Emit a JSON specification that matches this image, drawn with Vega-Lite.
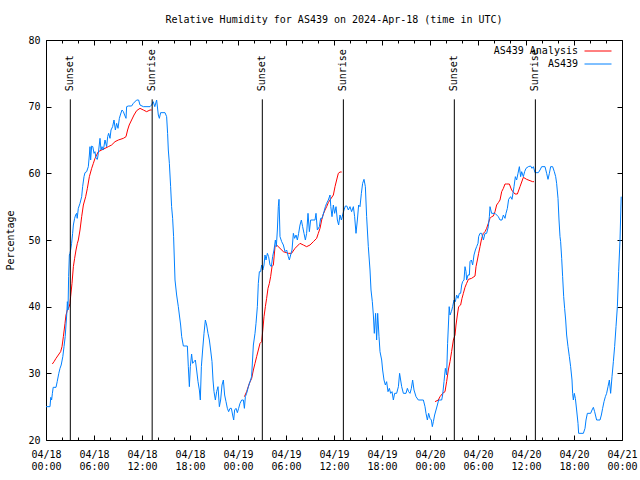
{
  "$schema": "https://vega.github.io/schema/vega-lite/v6.json",
  "width": 576,
  "height": 400,
  "autosize": {"type": "none"},
  "padding": {"left": 46, "top": 40, "right": 18, "bottom": 40},
  "background": "white",
  "title": {"text": "Relative Humidity for AS439 on 2024-Apr-18 (time in UTC)", "font": "DejaVu Sans Mono", "fontSize": 10, "fontWeight": "normal", "color": "black", "anchor": "middle", "offset": 10},
  "config": {
    "view": {"stroke": "black", "strokeWidth": 1},
    "font": "DejaVu Sans Mono",
    "axis": {"domain": false, "grid": false, "labelFont": "DejaVu Sans Mono", "labelFontSize": 10, "labelColor": "black", "tickColor": "black", "tickWidth": 1, "titleFont": "DejaVu Sans Mono", "titleFontSize": 10, "titleFontWeight": "normal", "titleColor": "black"}
  },
  "datasets": {
    "analysis": [
      {"seg":1,"hour":0.79,"rh":31.4},{"seg":1,"hour":1.0,"rh":31.75},{"seg":1,"hour":1.25,"rh":32.25},{"seg":1,"hour":1.54,"rh":32.75},{"seg":1,"hour":1.83,"rh":33.25},{"seg":1,"hour":2.0,"rh":34},{"seg":1,"hour":2.17,"rh":35.5},{"seg":1,"hour":2.375,"rh":37.5},{"seg":1,"hour":2.5,"rh":38.75},{"seg":1,"hour":2.67,"rh":39.5},{"seg":1,"hour":2.9,"rh":40},{"seg":1,"hour":3.0,"rh":40.5},{"seg":1,"hour":3.08,"rh":41.5},{"seg":1,"hour":3.25,"rh":43.5},{"seg":1,"hour":3.42,"rh":46},{"seg":1,"hour":3.58,"rh":47.25},{"seg":1,"hour":3.75,"rh":48.5},{"seg":1,"hour":3.92,"rh":49.5},{"seg":1,"hour":4.04,"rh":50},{"seg":1,"hour":4.25,"rh":51.5},{"seg":1,"hour":4.46,"rh":53.5},{"seg":1,"hour":4.67,"rh":55.25},{"seg":1,"hour":4.96,"rh":56.5},{"seg":1,"hour":5.17,"rh":57.75},{"seg":1,"hour":5.42,"rh":59.5},{"seg":1,"hour":5.71,"rh":60.75},{"seg":1,"hour":5.92,"rh":61.5},{"seg":1,"hour":6.125,"rh":62.25},{"seg":1,"hour":6.33,"rh":62.75},{"seg":1,"hour":6.54,"rh":63.25},{"seg":1,"hour":6.96,"rh":63.5},{"seg":1,"hour":7.375,"rh":63.75},{"seg":1,"hour":7.79,"rh":64},{"seg":1,"hour":8.2,"rh":64.25},{"seg":1,"hour":8.625,"rh":64.75},{"seg":1,"hour":9.04,"rh":65},{"seg":1,"hour":9.67,"rh":65.25},{"seg":1,"hour":10.0,"rh":65.5},{"seg":1,"hour":10.2,"rh":66.5},{"seg":1,"hour":10.4,"rh":67.25},{"seg":1,"hour":10.7,"rh":68},{"seg":1,"hour":11.0,"rh":68.75},{"seg":1,"hour":11.33,"rh":69.4},{"seg":1,"hour":11.75,"rh":69.75},{"seg":1,"hour":12.17,"rh":69.5},{"seg":1,"hour":12.58,"rh":69.25},{"seg":1,"hour":13.0,"rh":69.5},{"seg":1,"hour":13.2,"rh":69.5},
      {"seg":2,"hour":24.8,"rh":26.5},{"seg":2,"hour":25.08,"rh":27.25},{"seg":2,"hour":25.42,"rh":28.5},{"seg":2,"hour":25.71,"rh":29.25},{"seg":2,"hour":25.92,"rh":30.5},{"seg":2,"hour":26.125,"rh":31.5},{"seg":2,"hour":26.33,"rh":32.5},{"seg":2,"hour":26.54,"rh":33.5},{"seg":2,"hour":26.75,"rh":34.5},{"seg":2,"hour":26.96,"rh":34.75},{"seg":2,"hour":27.1,"rh":36.5},{"seg":2,"hour":27.25,"rh":38.5},{"seg":2,"hour":27.42,"rh":40},{"seg":2,"hour":27.58,"rh":41.25},{"seg":2,"hour":27.75,"rh":42.75},{"seg":2,"hour":27.92,"rh":43.5},{"seg":2,"hour":28.08,"rh":44.5},{"seg":2,"hour":28.25,"rh":46},{"seg":2,"hour":28.42,"rh":46.25},{"seg":2,"hour":28.625,"rh":49},{"seg":2,"hour":28.83,"rh":49.25},{"seg":2,"hour":29.25,"rh":48.75},{"seg":2,"hour":29.67,"rh":48.25},{"seg":2,"hour":30.29,"rh":48},{"seg":2,"hour":30.7,"rh":48},{"seg":2,"hour":31.125,"rh":48.75},{"seg":2,"hour":31.75,"rh":49.5},{"seg":2,"hour":32.17,"rh":49.25},{"seg":2,"hour":32.58,"rh":49},{"seg":2,"hour":33.0,"rh":49.25},{"seg":2,"hour":33.42,"rh":49.75},{"seg":2,"hour":33.83,"rh":50.25},{"seg":2,"hour":34.04,"rh":51},{"seg":2,"hour":34.25,"rh":51.75},{"seg":2,"hour":34.46,"rh":53},{"seg":2,"hour":34.67,"rh":53.9},{"seg":2,"hour":34.875,"rh":54.5},{"seg":2,"hour":35.08,"rh":55},{"seg":2,"hour":35.29,"rh":55.6},{"seg":2,"hour":35.5,"rh":56},{"seg":2,"hour":35.92,"rh":56.75},{"seg":2,"hour":36.125,"rh":58},{"seg":2,"hour":36.33,"rh":59},{"seg":2,"hour":36.54,"rh":60},{"seg":2,"hour":36.75,"rh":60.2},{"seg":2,"hour":36.96,"rh":60.2},
      {"seg":3,"hour":48.625,"rh":25.75},{"seg":3,"hour":49.04,"rh":26},{"seg":3,"hour":49.25,"rh":26.5},{"seg":3,"hour":49.58,"rh":27},{"seg":3,"hour":49.875,"rh":27.25},{"seg":3,"hour":50.08,"rh":28.75},{"seg":3,"hour":50.29,"rh":30.5},{"seg":3,"hour":50.5,"rh":31.75},{"seg":3,"hour":50.7,"rh":33.25},{"seg":3,"hour":50.92,"rh":35},{"seg":3,"hour":51.125,"rh":35.75},{"seg":3,"hour":51.25,"rh":37.25},{"seg":3,"hour":51.42,"rh":38.75},{"seg":3,"hour":51.58,"rh":40},{"seg":3,"hour":51.83,"rh":40.25},{"seg":3,"hour":52.0,"rh":41.25},{"seg":3,"hour":52.17,"rh":42},{"seg":3,"hour":52.375,"rh":42.9},{"seg":3,"hour":52.58,"rh":43.5},{"seg":3,"hour":52.8,"rh":44.1},{"seg":3,"hour":53.2,"rh":44.25},{"seg":3,"hour":53.625,"rh":44.6},{"seg":3,"hour":53.75,"rh":46},{"seg":3,"hour":53.92,"rh":47},{"seg":3,"hour":54.08,"rh":48},{"seg":3,"hour":54.25,"rh":49},{"seg":3,"hour":54.46,"rh":50.25},{"seg":3,"hour":54.67,"rh":51},{"seg":3,"hour":54.875,"rh":51.25},{"seg":3,"hour":55.08,"rh":51.75},{"seg":3,"hour":55.29,"rh":52.5},{"seg":3,"hour":55.5,"rh":53.25},{"seg":3,"hour":55.7,"rh":53.5},{"seg":3,"hour":55.92,"rh":53.6},{"seg":3,"hour":56.125,"rh":54.25},{"seg":3,"hour":56.33,"rh":55.25},{"seg":3,"hour":56.54,"rh":55.6},{"seg":3,"hour":56.75,"rh":56},{"seg":3,"hour":56.96,"rh":57.25},{"seg":3,"hour":57.17,"rh":57.75},{"seg":3,"hour":57.375,"rh":58.4},{"seg":3,"hour":57.58,"rh":58.4},{"seg":3,"hour":57.92,"rh":58.4},{"seg":3,"hour":58.2,"rh":57.5},{"seg":3,"hour":58.625,"rh":56.9},{"seg":3,"hour":58.92,"rh":56.9},{"seg":3,"hour":59.25,"rh":58},{"seg":3,"hour":59.67,"rh":59.4},{"seg":3,"hour":60.08,"rh":59.1},{"seg":3,"hour":60.5,"rh":58.9},{"seg":3,"hour":60.83,"rh":58.75},{"seg":3,"hour":61.0,"rh":58.75}
    ],
    "obs": [
      {"hour":0.0,"rh":25},{"hour":0.5,"rh":25},{"hour":0.6,"rh":26.4},{"hour":0.7,"rh":26},{"hour":0.8,"rh":27},{"hour":0.9,"rh":27.9},{"hour":1.25,"rh":27.9},{"hour":1.4,"rh":28.75},{"hour":1.6,"rh":30},{"hour":1.75,"rh":30.75},{"hour":1.9,"rh":31.25},{"hour":2.1,"rh":32.5},{"hour":2.25,"rh":34},{"hour":2.4,"rh":35.5},{"hour":2.6,"rh":39},{"hour":2.67,"rh":40.75},{"hour":2.75,"rh":39.5},{"hour":2.83,"rh":44.5},{"hour":2.92,"rh":47.75},{"hour":3.0,"rh":48},{"hour":3.08,"rh":48.5},{"hour":3.2,"rh":49.5},{"hour":3.33,"rh":51},{"hour":3.42,"rh":52.25},{"hour":3.58,"rh":53.25},{"hour":3.7,"rh":53.75},{"hour":3.83,"rh":54},{"hour":3.9,"rh":53.25},{"hour":4.04,"rh":54.75},{"hour":4.25,"rh":55.5},{"hour":4.46,"rh":56.5},{"hour":4.58,"rh":58},{"hour":4.75,"rh":59.5},{"hour":4.875,"rh":60.1},{"hour":5.08,"rh":60.25},{"hour":5.29,"rh":61},{"hour":5.42,"rh":62.75},{"hour":5.5,"rh":64},{"hour":5.58,"rh":62},{"hour":5.71,"rh":64.1},{"hour":5.85,"rh":64},{"hour":6.0,"rh":63},{"hour":6.12,"rh":63.25},{"hour":6.25,"rh":62.25},{"hour":6.42,"rh":62.1},{"hour":6.54,"rh":63},{"hour":6.75,"rh":65.25},{"hour":6.875,"rh":63.5},{"hour":7.0,"rh":64},{"hour":7.17,"rh":63.5},{"hour":7.375,"rh":65},{"hour":7.58,"rh":64},{"hour":7.71,"rh":65.5},{"hour":7.83,"rh":66},{"hour":8.0,"rh":65.25},{"hour":8.125,"rh":66.5},{"hour":8.33,"rh":67},{"hour":8.5,"rh":68},{"hour":8.67,"rh":66.5},{"hour":8.83,"rh":67.5},{"hour":9.0,"rh":66.75},{"hour":9.17,"rh":68.25},{"hour":9.33,"rh":68.9},{"hour":9.5,"rh":69.5},{"hour":9.67,"rh":69.25},{"hour":9.83,"rh":68.75},{"hour":10.0,"rh":68.25},{"hour":10.08,"rh":70},{"hour":10.29,"rh":70.1},{"hour":10.7,"rh":70.1},{"hour":10.92,"rh":70.5},{"hour":11.33,"rh":71},{"hour":11.58,"rh":71},{"hour":11.75,"rh":70.25},{"hour":12.17,"rh":70},{"hour":13.0,"rh":70},{"hour":13.2,"rh":70.25},{"hour":13.4,"rh":70.75},{"hour":13.6,"rh":70},{"hour":13.83,"rh":71},{"hour":14.04,"rh":68.75},{"hour":14.17,"rh":68.25},{"hour":14.33,"rh":69.1},{"hour":14.875,"rh":69.1},{"hour":15.08,"rh":68.5},{"hour":15.2,"rh":66},{"hour":15.29,"rh":63.5},{"hour":15.42,"rh":61.5},{"hour":15.58,"rh":58},{"hour":15.7,"rh":55},{"hour":15.83,"rh":53.25},{"hour":15.95,"rh":50.5},{"hour":16.125,"rh":44},{"hour":16.33,"rh":41.75},{"hour":16.54,"rh":40},{"hour":16.67,"rh":38.75},{"hour":16.83,"rh":37.25},{"hour":16.96,"rh":35.5},{"hour":17.17,"rh":34.1},{"hour":17.67,"rh":34.1},{"hour":17.79,"rh":31},{"hour":17.92,"rh":28},{"hour":18.04,"rh":31},{"hour":18.2,"rh":32.9},{"hour":18.33,"rh":31.5},{"hour":18.5,"rh":31.75},{"hour":18.67,"rh":32},{"hour":18.83,"rh":30.5},{"hour":19.0,"rh":28.75},{"hour":19.17,"rh":27.5},{"hour":19.29,"rh":26},{"hour":19.42,"rh":31},{"hour":19.58,"rh":33.5},{"hour":19.75,"rh":36},{"hour":19.92,"rh":38},{"hour":20.08,"rh":37.25},{"hour":20.25,"rh":36},{"hour":20.42,"rh":35},{"hour":20.58,"rh":33.5},{"hour":20.75,"rh":31.75},{"hour":20.875,"rh":29},{"hour":21.0,"rh":27.25},{"hour":21.17,"rh":26},{"hour":21.33,"rh":27.25},{"hour":21.5,"rh":28},{"hour":21.67,"rh":25},{"hour":21.83,"rh":26},{"hour":22.0,"rh":28.25},{"hour":22.17,"rh":29},{"hour":22.33,"rh":26.75},{"hour":22.5,"rh":25.75},{"hour":22.67,"rh":24.75},{"hour":22.83,"rh":24.25},{"hour":23.0,"rh":24.75},{"hour":23.17,"rh":24.75},{"hour":23.33,"rh":23.75},{"hour":23.46,"rh":23},{"hour":23.58,"rh":24.5},{"hour":23.75,"rh":24.75},{"hour":23.92,"rh":24.1},{"hour":24.08,"rh":24.75},{"hour":24.25,"rh":25.5},{"hour":24.46,"rh":26},{"hour":24.67,"rh":26},{"hour":24.8,"rh":24.75},{"hour":24.92,"rh":26.5},{"hour":25.08,"rh":27},{"hour":25.3,"rh":28},{"hour":25.5,"rh":28.75},{"hour":25.7,"rh":29.5},{"hour":25.92,"rh":34.25},{"hour":26.125,"rh":36},{"hour":26.25,"rh":37.5},{"hour":26.42,"rh":40},{"hour":26.54,"rh":43.5},{"hour":26.67,"rh":45.25},{"hour":26.83,"rh":45.25},{"hour":26.96,"rh":46.25},{"hour":27.1,"rh":45.5},{"hour":27.25,"rh":46.25},{"hour":27.375,"rh":47.75},{"hour":27.5,"rh":47},{"hour":27.67,"rh":48},{"hour":27.83,"rh":47.5},{"hour":28.0,"rh":46.25},{"hour":28.17,"rh":46},{"hour":28.33,"rh":47.5},{"hour":28.5,"rh":48.5},{"hour":28.67,"rh":50},{"hour":28.79,"rh":49},{"hour":28.92,"rh":51.5},{"hour":29.04,"rh":55},{"hour":29.125,"rh":56.1},{"hour":29.25,"rh":50.5},{"hour":29.46,"rh":49.75},{"hour":29.67,"rh":49.25},{"hour":29.875,"rh":48.25},{"hour":30.08,"rh":48.5},{"hour":30.29,"rh":47.5},{"hour":30.42,"rh":47},{"hour":30.58,"rh":47.75},{"hour":30.75,"rh":48.5},{"hour":30.92,"rh":51},{"hour":31.08,"rh":50.25},{"hour":31.25,"rh":50.75},{"hour":31.42,"rh":50},{"hour":31.58,"rh":51},{"hour":31.75,"rh":52.25},{"hour":31.92,"rh":53},{"hour":32.08,"rh":52},{"hour":32.25,"rh":51},{"hour":32.42,"rh":50},{"hour":32.58,"rh":51},{"hour":32.75,"rh":54},{"hour":32.92,"rh":51.25},{"hour":33.08,"rh":53},{"hour":33.625,"rh":53},{"hour":33.75,"rh":54},{"hour":33.92,"rh":51.5},{"hour":34.17,"rh":52},{"hour":34.33,"rh":53.25},{"hour":34.5,"rh":53.25},{"hour":34.75,"rh":54.25},{"hour":34.92,"rh":55},{"hour":35.08,"rh":55.5},{"hour":35.29,"rh":56},{"hour":35.5,"rh":56.75},{"hour":35.6,"rh":55},{"hour":35.75,"rh":53.5},{"hour":35.92,"rh":55.25},{"hour":36.08,"rh":54},{"hour":36.25,"rh":55},{"hour":36.42,"rh":53},{"hour":36.58,"rh":52.25},{"hour":36.75,"rh":53.75},{"hour":36.92,"rh":53},{"hour":37.08,"rh":53.75},{"hour":37.25,"rh":54.5},{"hour":37.42,"rh":55.1},{"hour":37.6,"rh":55.1},{"hour":37.79,"rh":54.5},{"hour":38.0,"rh":55},{"hour":38.2,"rh":54.25},{"hour":38.42,"rh":55},{"hour":38.58,"rh":53.5},{"hour":38.75,"rh":51},{"hour":38.92,"rh":53},{"hour":39.08,"rh":55.25},{"hour":39.25,"rh":55},{"hour":39.42,"rh":57},{"hour":39.58,"rh":58.5},{"hour":39.75,"rh":59.1},{"hour":39.92,"rh":58},{"hour":40.08,"rh":53.5},{"hour":40.29,"rh":49},{"hour":40.5,"rh":45.5},{"hour":40.625,"rh":42.5},{"hour":40.79,"rh":40.75},{"hour":40.92,"rh":38.75},{"hour":41.04,"rh":36},{"hour":41.2,"rh":39},{"hour":41.33,"rh":35},{"hour":41.46,"rh":39},{"hour":41.625,"rh":35.5},{"hour":41.75,"rh":33.25},{"hour":41.96,"rh":32},{"hour":42.08,"rh":30.5},{"hour":42.25,"rh":29},{"hour":42.42,"rh":28.25},{"hour":42.58,"rh":28.75},{"hour":42.75,"rh":27.25},{"hour":42.92,"rh":27.75},{"hour":43.08,"rh":27},{"hour":43.25,"rh":27.25},{"hour":43.42,"rh":26},{"hour":43.58,"rh":27},{"hour":43.83,"rh":27},{"hour":44.05,"rh":28},{"hour":44.2,"rh":30},{"hour":44.46,"rh":28},{"hour":44.67,"rh":27},{"hour":45.0,"rh":27},{"hour":45.17,"rh":27.75},{"hour":45.33,"rh":27.25},{"hour":45.5,"rh":27},{"hour":45.67,"rh":27.75},{"hour":45.83,"rh":29},{"hour":46.0,"rh":27.5},{"hour":46.25,"rh":26.5},{"hour":46.54,"rh":26},{"hour":47.17,"rh":26},{"hour":47.375,"rh":25},{"hour":47.5,"rh":24},{"hour":47.67,"rh":23},{"hour":47.83,"rh":24},{"hour":48.0,"rh":23.25},{"hour":48.17,"rh":23},{"hour":48.29,"rh":22},{"hour":48.42,"rh":22.75},{"hour":48.58,"rh":23.75},{"hour":48.75,"rh":24.5},{"hour":48.92,"rh":25.25},{"hour":49.08,"rh":26},{"hour":49.46,"rh":26},{"hour":49.58,"rh":26.75},{"hour":49.75,"rh":28.75},{"hour":49.92,"rh":30.75},{"hour":50.08,"rh":29.75},{"hour":50.2,"rh":34.5},{"hour":50.33,"rh":38},{"hour":50.4,"rh":40},{"hour":50.5,"rh":38.75},{"hour":50.67,"rh":39.25},{"hour":50.83,"rh":40},{"hour":51.0,"rh":41},{"hour":51.17,"rh":40.75},{"hour":51.33,"rh":41.75},{"hour":51.5,"rh":41.25},{"hour":51.67,"rh":42},{"hour":51.83,"rh":42},{"hour":51.96,"rh":43.25},{"hour":52.08,"rh":43.75},{"hour":52.25,"rh":44},{"hour":52.375,"rh":46},{"hour":52.5,"rh":45.25},{"hour":52.58,"rh":44},{"hour":52.75,"rh":44.75},{"hour":52.92,"rh":44.75},{"hour":53.0,"rh":46.75},{"hour":53.17,"rh":47},{"hour":53.33,"rh":46.25},{"hour":53.5,"rh":47.75},{"hour":53.67,"rh":48.5},{"hour":53.83,"rh":49},{"hour":54.0,"rh":49.5},{"hour":54.08,"rh":50.5},{"hour":54.25,"rh":51},{"hour":54.46,"rh":51},{"hour":54.67,"rh":50},{"hour":54.875,"rh":51},{"hour":55.08,"rh":51},{"hour":55.29,"rh":52},{"hour":55.42,"rh":53.5},{"hour":55.5,"rh":55},{"hour":55.7,"rh":54},{"hour":56.125,"rh":54},{"hour":56.54,"rh":53.5},{"hour":56.75,"rh":53},{"hour":57.0,"rh":53},{"hour":57.17,"rh":53.75},{"hour":57.375,"rh":53.25},{"hour":57.5,"rh":54},{"hour":57.67,"rh":54.75},{"hour":57.83,"rh":56.1},{"hour":58.08,"rh":56.5},{"hour":58.25,"rh":56.1},{"hour":58.5,"rh":58},{"hour":58.67,"rh":59.5},{"hour":58.83,"rh":59},{"hour":59.0,"rh":60},{"hour":59.17,"rh":61},{"hour":59.33,"rh":59.5},{"hour":59.46,"rh":60.25},{"hour":59.67,"rh":59.5},{"hour":59.83,"rh":60.25},{"hour":60.0,"rh":60.75},{"hour":60.29,"rh":61},{"hour":60.58,"rh":61.1},{"hour":60.75,"rh":60.75},{"hour":60.92,"rh":61},{"hour":61.125,"rh":60.1},{"hour":61.54,"rh":60.1},{"hour":61.75,"rh":60.5},{"hour":61.96,"rh":61},{"hour":62.375,"rh":61},{"hour":62.58,"rh":60},{"hour":62.75,"rh":59.1},{"hour":62.92,"rh":60},{"hour":63.08,"rh":61},{"hour":63.33,"rh":61},{"hour":63.54,"rh":60.25},{"hour":63.71,"rh":59.5},{"hour":63.83,"rh":58.5},{"hour":64.0,"rh":56.25},{"hour":64.125,"rh":53},{"hour":64.25,"rh":50.5},{"hour":64.33,"rh":49.75},{"hour":64.46,"rh":47.25},{"hour":64.58,"rh":44.5},{"hour":64.71,"rh":41.5},{"hour":64.83,"rh":39.75},{"hour":64.96,"rh":38},{"hour":65.08,"rh":35.75},{"hour":65.25,"rh":34},{"hour":65.42,"rh":32.5},{"hour":65.58,"rh":31},{"hour":65.75,"rh":29},{"hour":65.83,"rh":27},{"hour":65.92,"rh":26},{"hour":66.04,"rh":27},{"hour":66.17,"rh":26.25},{"hour":66.33,"rh":24.5},{"hour":66.5,"rh":22.5},{"hour":66.58,"rh":21},{"hour":67.17,"rh":21},{"hour":67.375,"rh":21.75},{"hour":67.5,"rh":23},{"hour":67.67,"rh":24},{"hour":68.08,"rh":24},{"hour":68.25,"rh":24.5},{"hour":68.42,"rh":24.9},{"hour":68.58,"rh":24.25},{"hour":68.83,"rh":23},{"hour":69.25,"rh":23},{"hour":69.42,"rh":23.75},{"hour":69.58,"rh":24.75},{"hour":69.75,"rh":25.75},{"hour":69.92,"rh":26.5},{"hour":70.08,"rh":27},{"hour":70.25,"rh":28},{"hour":70.42,"rh":29},{"hour":70.58,"rh":27},{"hour":70.75,"rh":29.5},{"hour":70.92,"rh":31.75},{"hour":71.08,"rh":34},{"hour":71.25,"rh":37},{"hour":71.42,"rh":40},{"hour":71.58,"rh":45.25},{"hour":71.75,"rh":50},{"hour":71.9,"rh":56.5}
    ],
    "events": [
      {"event":"Sunset","hour":3.04},{"event":"Sunrise","hour":13.27},{"event":"Sunset","hour":27.04},{"event":"Sunrise","hour":37.17},{"event":"Sunset","hour":51.04},{"event":"Sunrise","hour":61.17}
    ]
  },
  "layer": [
    {
      "data": {"name": "analysis"},
      "mark": {"type": "line", "strokeWidth": 1},
      "encoding": {
        "x": {"field": "hour", "type": "quantitative", "scale": {"domain": [0, 72], "nice": false, "zero": false},
              "axis": {"orient": "bottom", "values": [0, 6, 12, 18, 24, 30, 36, 42, 48, 54, 60, 66, 72], "tickSize": -5, "labelPadding": 14, "labelBaseline": "top", "labelLineHeight": 12, "labelFlush": false, "labelExpr": "['04/' + (18 + floor(datum.value / 24)), (datum.value % 24 < 10 ? '0' : '') + (datum.value % 24) + ':00']", "title": null}},
        "y": {"field": "rh", "type": "quantitative", "scale": {"domain": [20, 80], "nice": false, "zero": false},
              "axis": {"orient": "left", "values": [20, 30, 40, 50, 60, 70, 80], "tickSize": -5, "labelPadding": 11, "title": "Percentage", "titleX": -36, "titleY": 200, "titleAngle": 270, "titleAlign": "center", "titleBaseline": "middle"}},
        "detail": {"field": "seg"},
        "color": {"datum": "AS439 Analysis", "type": "nominal",
                  "scale": {"domain": ["AS439 Analysis", "AS439"], "range": ["#ff0000", "#0080ff"]},
                  "legend": {"orient": "none", "legendX": 547, "legendY": 6, "title": null, "symbolType": "M-3,0H3", "symbolSize": 81, "symbolStrokeWidth": 1, "symbolFillColor": "transparent", "labelAlign": "right", "labelOffset": -25, "rowPadding": 3, "padding": 0, "labelFont": "DejaVu Sans Mono", "labelFontSize": 10, "labelColor": "black"}}
      }
    },
    {
      "data": {"name": "obs"},
      "mark": {"type": "line", "strokeWidth": 1},
      "encoding": {
        "x": {"field": "hour", "type": "quantitative", "scale": {"domain": [0, 72], "nice": false, "zero": false},
              "axis": {"orient": "bottom", "values": [2, 4, 8, 10, 14, 16, 20, 22, 26, 28, 32, 34, 38, 40, 44, 46, 50, 52, 56, 58, 62, 64, 68, 70], "tickSize": -3, "labels": false, "title": null}},
        "y": {"field": "rh", "type": "quantitative", "scale": {"domain": [20, 80], "nice": false, "zero": false},
              "axis": {"orient": "right", "values": [20, 30, 40, 50, 60, 70, 80], "tickSize": -5, "labels": false, "title": null}},
        "color": {"datum": "AS439", "type": "nominal"}
      }
    },
    {
      "data": {"name": "events"},
      "mark": {"type": "rule", "color": "black", "strokeWidth": 1},
      "encoding": {
        "x": {"field": "hour", "type": "quantitative", "scale": {"domain": [0, 72], "nice": false, "zero": false},
              "axis": {"orient": "top", "values": [0, 6, 12, 18, 24, 30, 36, 42, 48, 54, 60, 66, 72], "tickSize": -5, "labels": false, "title": null}},
        "y": {"datum": 20, "type": "quantitative", "scale": {"domain": [20, 80], "nice": false, "zero": false}, "axis": null},
        "y2": {"datum": 71.1}
      }
    },
    {
      "data": {"name": "events"},
      "mark": {"type": "text", "angle": 270, "align": "left", "baseline": "middle", "font": "DejaVu Sans Mono", "fontSize": 10, "color": "black"},
      "encoding": {
        "x": {"field": "hour", "type": "quantitative", "scale": {"domain": [0, 72], "nice": false, "zero": false},
              "axis": {"orient": "top", "values": [2, 4, 8, 10, 14, 16, 20, 22, 26, 28, 32, 34, 38, 40, 44, 46, 50, 52, 56, 58, 62, 64, 68, 70], "tickSize": -3, "labels": false, "title": null}},
        "y": {"datum": 72.3, "type": "quantitative", "scale": {"domain": [20, 80], "nice": false, "zero": false}, "axis": null},
        "text": {"field": "event"}
      }
    }
  ],
  "resolve": {"scale": {"x": "independent", "y": "independent"}}
}
